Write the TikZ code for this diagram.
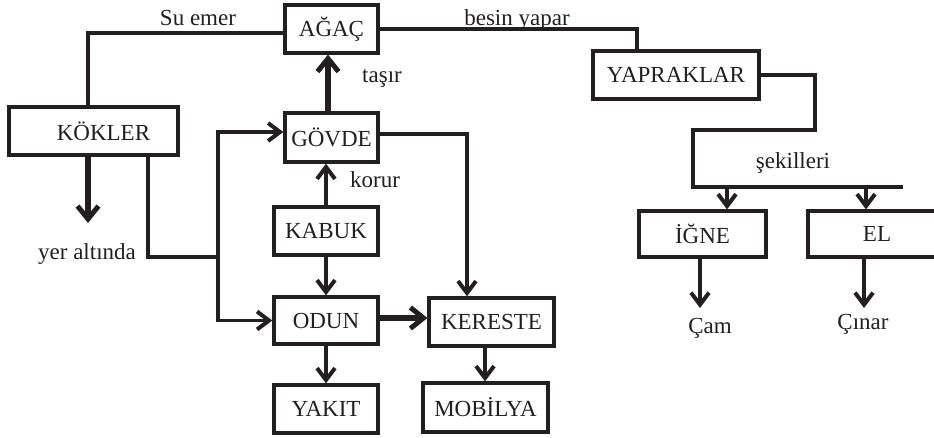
\documentclass[tikz,border=0pt]{standalone}
\usepackage{fontspec}
\setmainfont{Liberation Serif}
\usetikzlibrary{arrows.meta}
\definecolor{ink}{RGB}{35,31,32}
\newcommand\tf{\fontsize{23}{26}\selectfont}
\tikzset{
  box/.style={draw=ink, line width=3.2pt, inner sep=0pt, font=\tf, text=ink},
  lbl/.style={font=\tf, text=ink, inner sep=0pt, anchor=base},
  cn/.style={draw=ink, line width=3.5pt},
  bc/.style={draw=ink, line width=6pt},
  mc/.style={draw=ink, line width=4.8pt},
  arr/.style={-{Straight Barb[length=12pt,width=18pt,line width=4pt]}},
  barr/.style={-{Straight Barb[length=13pt,width=21pt,line width=5pt]}},
}
\begin{document}
\begin{tikzpicture}[x=1pt,y=-1pt]
\useasboundingbox[fill=white] (0,0) rectangle (934,437);

% boxes
\node[box, minimum width=93pt,  minimum height=48pt] (agac)    at (331.5,29)  {AĞAÇ};
\node[box, minimum width=169pt, minimum height=48pt] (kokler)  at (93.5,131)  {\hspace*{20pt}KÖKLER};
\node[box, minimum width=93pt,  minimum height=49pt] (govde)   at (331.5,137.5) {GÖVDE};
\node[box, minimum width=104pt, minimum height=48pt] (kabuk)   at (326,231)   {KABUK};
\node[box, minimum width=104pt, minimum height=47pt] (odun)    at (326,320.5) {ODUN};
\node[box, minimum width=104pt, minimum height=48pt] (yakit)   at (326,409)   {YAKIT};
\node[box, minimum width=125pt, minimum height=48pt] (kereste) at (491.5,322)  {KERESTE};
\node[box, minimum width=125pt, minimum height=49pt] (mobilya) at (485.5,407.5) {MOBİLYA};
\node[box, minimum width=166pt, minimum height=48pt] (yaprak)  at (676,75)    {YAPRAKLAR};
\node[box, minimum width=127pt, minimum height=46pt] (igne)    at (702.5,234) {İĞNE};
\node[box, minimum width=138pt, minimum height=46pt] (el)      at (877,234)   {EL};

% labels
\node[lbl] (suemer) at (198,25)  {Su emer};
\node[lbl] (besin)  at (517,25)  {besin yapar};
\node[lbl] (tasir)  at (382,82)  {taşır};
\node[lbl] (korur)  at (375,187) {korur};
\node[lbl] (yer)    at (87,259)  {yer altında};
\node[lbl] (sekil)  at (793,168) {şekilleri};
\node[lbl] (cam)    at (710,333) {Çam};
\node[lbl] (cinar)  at (863,329) {Çınar};

% helper coordinates
\coordinate (xa) at (88,0);
\coordinate (yerup) at (88,223);
\coordinate (kb) at (148,0);
\coordinate (jn) at (218,257);
\coordinate (xg) at (328,0);
\coordinate (xk) at (326,0);
\coordinate (xr) at (467,0);
\coordinate (xm) at (485,0);
\coordinate (xy) at (637,0);
\coordinate (c1) at (815,130);
\coordinate (c2) at (693,187);
\coordinate (c3) at (903,187);
\coordinate (xi) at (727,0);
\coordinate (xe) at (866,0);
\coordinate (camtip) at (700,308);
\coordinate (cinartip) at (864,308);

% connectors
\draw[mc] ([yshift=-4pt]agac.west) -| (kokler.north -| xa);
\draw[bc, barr] (kokler.south -| xa) -- (yerup);
\draw[cn] (kokler.south -| kb) |- (jn);
\draw[cn, arr] (jn) |- ([yshift=5.5pt]govde.west);
\draw[cn, arr] (jn) |- (odun.west);
\draw[bc, barr] (govde.north -| xg) -- (agac.south -| xg);
\draw[cn, arr] (kabuk.north -| xk) -- (govde.south -| xk);
\draw[cn, arr] (kabuk.south -| xk) -- (odun.north -| xk);
\draw[cn, arr] (odun.south -| xk) -- (yakit.north -| xk);
\draw[bc, barr] ([yshift=2.5pt]odun.east) -- ([yshift=2.5pt]odun.east -| kereste.west);
\draw[mc, arr] ([yshift=3.5pt]govde.east) -| (kereste.north -| xr);
\draw[cn, arr] (kereste.south -| xm) -- (mobilya.north -| xm);
\draw[cn] (agac.east) -| (yaprak.north -| xy);
\draw[cn] (yaprak.east) -| (c1) -| (c2) -- (c3);
\draw[cn, arr] (xi |- c3) -- (igne.north -| xi);
\draw[cn, arr] (xe |- c3) -- (el.north -| xe);
\draw[cn, arr] (igne.south -| camtip) -- (camtip);
\draw[cn, arr] (el.south -| cinartip) -- (cinartip);
\end{tikzpicture}
\end{document}
